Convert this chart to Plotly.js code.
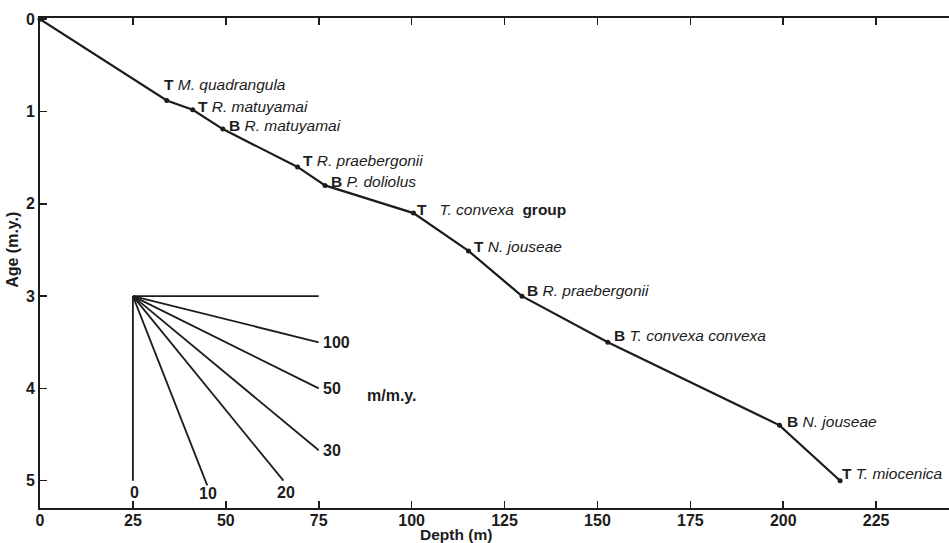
<!DOCTYPE html>
<html><head><meta charset="utf-8">
<script src="https://cdn.plot.ly/plotly-3.0.1.min.js"></script>
<style>html,body{margin:0;padding:0;background:#fff;}#chart{width:949px;height:543px;}</style>
</head><body><div id="chart"></div>
<script>
// Age-depth curve (datum levels)
const depth = [0, 34.1, 41.1, 49.2, 69.3, 76.7, 100.5, 115.3, 129.7, 152.8, 199.0, 215.3];
const age   = [0, 0.88, 0.98, 1.19, 1.60, 1.80, 2.10, 2.51, 3.00, 3.50, 4.40, 5.00];
const datumType  = ['', 'T', 'T', 'B', 'T', 'B', 'T', 'T', 'B', 'B', 'B', 'T'];
const datumTaxon = ['', 'M. quadrangula', 'R. matuyamai', 'R. matuyamai', 'R. praebergonii', 'P. doliolus',
                    'T. convexa', 'N. jouseae', 'R. praebergonii', 'T. convexa convexa', 'N. jouseae', 'T. miocenica'];
const datumSuffix = ['', '', '', '', '', '', 'group', '', '', '', '', ''];

// Sedimentation-rate nomogram (m/m.y.)
const rateOriginDepth = 25;
const rateOriginAge = 3;
const rateLabels   = ['', '100', '50', '30', '20', '10', '0'];
const rateEndDepth = [75, 75, 75, 75, 65.5, 45, 25];
const rateEndAge   = [3.0, 3.5, 4.0, 4.67, 5.0, 5.05, 5.0];

// Axis ticks
const xTicks = [0, 25, 50, 75, 100, 125, 150, 175, 200, 225];
const yTicks = [0, 1, 2, 3, 4, 5];

// label pixel offsets (layout only)
const labelDx = [0, -5, 3, 4, 3, 4, 2, 4, 3, 4, 5, 0];
const labelDy = [0, 16, 3.5, 3.5, 6.5, 4, 3.5, 4.5, 6, 6.5, 3.5, 7.5];
const rateDx = [0, 2, 2, 2, 3, 1, 2];
const rateDy = [0, 0, 0, 0, -12, -8, -12];

const FONT = 'Liberation Sans, Arial, Helvetica, sans-serif';
const INK = '#1c1c1c';

const traces = [];
// nomogram lines
for (let i = 0; i < rateEndDepth.length; i++) {
  traces.push({
    x: [rateOriginDepth, rateEndDepth[i]],
    y: [rateOriginAge, rateEndAge[i]],
    mode: 'lines', type: 'scatter', hoverinfo: 'skip',
    line: {color: INK, width: 1.8},
    showlegend: false, cliponaxis: false
  });
}
// age-depth curve
traces.push({
  x: depth, y: age, mode: 'lines+markers', type: 'scatter',
  line: {color: INK, width: 2.2},
  marker: {color: INK, size: 5, symbol: 'circle'},
  showlegend: false, cliponaxis: false
});

const annotations = [];
for (let i = 1; i < depth.length; i++) {
  let txt;
  if (datumSuffix[i]) {
    txt = '<b>' + datumType[i] + '</b>&nbsp;&nbsp; <i>' + datumTaxon[i] + '</i>&nbsp;&nbsp;<b>' + datumSuffix[i] + '</b>';
  } else {
    txt = '<b>' + datumType[i] + '</b> <i>' + datumTaxon[i] + '</i>';
  }
  annotations.push({
    x: depth[i], y: age[i], xref: 'x', yref: 'y', text: txt, showarrow: false,
    xanchor: 'left', yanchor: 'middle', xshift: labelDx[i], yshift: labelDy[i],
    font: {family: FONT, size: 15.5, color: INK}
  });
}
for (let i = 1; i < rateLabels.length; i++) {
  const below = rateDy[i] !== 0;
  annotations.push({
    x: rateEndDepth[i], y: rateEndAge[i], xref: 'x', yref: 'y', text: '<b>' + rateLabels[i] + '</b>',
    showarrow: false, xanchor: below ? 'center' : 'left', yanchor: 'middle',
    xshift: rateDx[i], yshift: rateDy[i],
    font: {family: FONT, size: 16, color: INK}
  });
}
annotations.push({
  x: 0.358, y: 0.23, xref: 'paper', yref: 'paper', text: '<b>m/m.y.</b>', showarrow: false,
  xanchor: 'left', yanchor: 'middle', font: {family: FONT, size: 16, color: INK}
});
annotations.push({
  x: 0.4576, y: -0.054, xref: 'paper', yref: 'paper', text: '<b>Depth (m)</b>', showarrow: false,
  xanchor: 'center', yanchor: 'middle', font: {family: FONT, size: 15.5, color: INK}
});
annotations.push({
  x: -0.031, y: 0.5265, xref: 'paper', yref: 'paper', text: '<b>Age (m.y.)</b>', showarrow: false,
  textangle: -90, xanchor: 'center', yanchor: 'middle', font: {family: FONT, size: 16, color: INK}
});

const axisCommon = {
  showline: true, linewidth: 2, linecolor: INK, showgrid: false, zeroline: false,
  ticks: 'inside', ticklen: 7, tickwidth: 1.6, tickcolor: INK,
  tickfont: {family: FONT, size: 16, color: INK, weight: 700},
  fixedrange: true
};

const layout = {
  width: 949, height: 543,
  margin: {l: 40, r: 0, t: 18, b: 35},
  paper_bgcolor: '#ffffff', plot_bgcolor: '#ffffff',
  xaxis: Object.assign({}, axisCommon, {
    range: [0, 244.6], tickvals: xTicks, ticktext: xTicks.map(String), mirror: 'ticks',
    ticklabelstandoff: -3
  }),
  yaxis: Object.assign({}, axisCommon, {
    range: [5.296, -0.014], tickvals: yTicks, ticktext: yTicks.map(String), mirror: false
  }),
  annotations: annotations,
  showlegend: false
};

Plotly.newPlot('chart', traces, layout, {displayModeBar: false, staticPlot: true});
</script>
</body></html>
